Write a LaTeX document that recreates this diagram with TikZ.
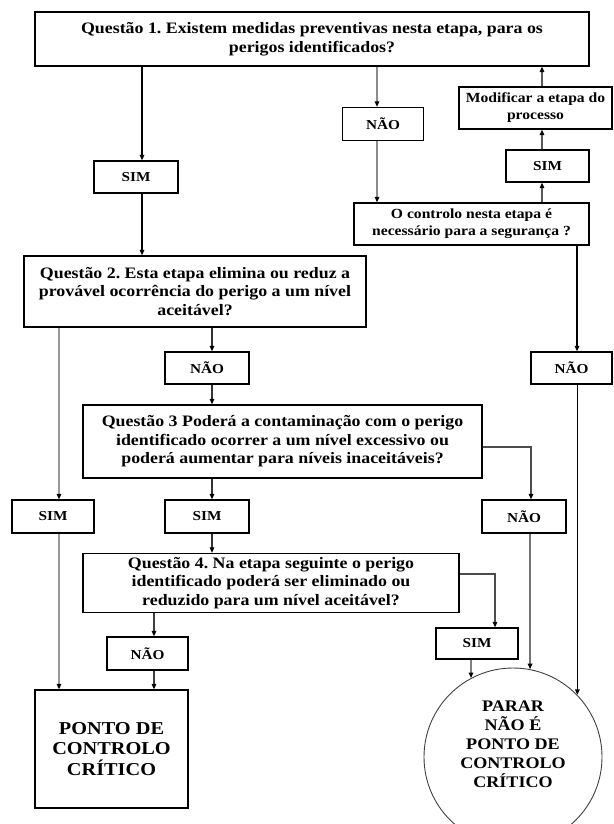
\documentclass[tikz,border=0pt]{standalone}
\usepackage{fontspec}
\setmainfont{Liberation Serif}[FakeStretch=1.12]
\usetikzlibrary{arrows.meta}
\frenchspacing

\begin{document}
\begin{tikzpicture}[x=1bp,y=-1bp,
  box/.style={draw=black,line width=1.2bp,inner sep=0pt,align=center},
  qtext/.style={font=\fontsize{16}{18.5}\selectfont\bfseries},
  mtext/.style={font=\fontsize{14}{17}\selectfont\bfseries},
  ltext/.style={font=\fontsize{13.7}{16}\selectfont\bfseries},
  ptext/.style={font=\fontsize{18.2}{21}\selectfont\bfseries},
  ctext/.style={font=\fontsize{16.2}{19}\selectfont\bfseries},
  tip/.style={-{Triangle[length=5.5bp,width=4.5bp,color=black]}},
  link/.style={tip,line width=1.4bp,draw=#1},
  link/.default=black,
]
\useasboundingbox (0,0) rectangle (614,824);
\clip (0,0) rectangle (614,824);

% question boxes
\node[box,qtext,minimum width=554bp,minimum height=54bp] (q1) at (312,39)
  {Questão 1. Existem medidas preventivas nesta etapa, para os\\perigos identificados?};
\node[box,qtext,minimum width=342bp,minimum height=71bp] (q2) at (195,291.5)
  {Questão 2. Esta etapa elimina ou reduz a\\provável ocorrência do perigo a um nível\\aceitável?};
\node[box,qtext,minimum width=399bp,minimum height=73bp] (q3) at (282.5,441.5)
  {Questão 3 Poderá a contaminação com o perigo\\identificado ocorrer a um nível excessivo ou\\poderá aumentar para níveis inaceitáveis?};
\node[box,qtext,minimum width=376bp,minimum height=59bp] (q4) at (271,583)
  {Questão 4. Na etapa seguinte o perigo\\identificado poderá ser eliminado ou\\reduzido para um nível aceitável?};

% side boxes
\node[box,mtext,minimum width=153bp,minimum height=42bp] (modif) at (535.5,108)
  {Modificar a etapa do\\processo};
\node[box,mtext,minimum width=235bp,minimum height=42bp] (ctrl) at (471.5,224)
  {O controlo nesta etapa é\\necessário para a segurança ?};

% answer boxes
\node[box,ltext,minimum width=84bp,minimum height=32bp] (simA) at (136,177) {SIM};
\node[box,ltext,minimum width=81bp,minimum height=33bp] (naoA) at (383,124) {NÃO};
\node[box,ltext,minimum width=83bp,minimum height=32bp] (simB) at (547.5,166) {SIM};
\node[box,ltext,minimum width=84bp,minimum height=32bp] (naoC) at (207,368) {NÃO};
\node[box,ltext,minimum width=81bp,minimum height=32bp] (naoB) at (571.5,368) {NÃO};
\node[box,ltext,minimum width=82bp,minimum height=33bp] (simC) at (53,516.5) {SIM};
\node[box,ltext,minimum width=84bp,minimum height=33bp] (simD) at (207,516.5) {SIM};
\node[box,ltext,minimum width=84bp,minimum height=33bp] (naoD) at (524,516.5) {NÃO};
\node[box,ltext,minimum width=82bp,minimum height=31bp] (simE) at (477,643.5) {SIM};
\node[box,ltext,minimum width=81bp,minimum height=33bp] (naoE) at (147.5,653.5) {NÃO};

% outcomes
\node[box,ptext,minimum width=153bp,minimum height=118bp] (pcc) at (111.5,749)
  {PONTO DE\\CONTROLO\\CRÍTICO};
\node[draw=black!75,line width=0.9bp,circle,minimum size=178bp,inner sep=0pt] (stop) at (513,757) {};
\node[ctext,align=center,inner sep=0pt] (stoptxt) at ([yshift=13bp]stop.center)
  {PARAR\\NÃO É\\PONTO DE\\CONTROLO\\CRÍTICO};

% vertical lanes of the connectors
\coordinate (l1) at (142,0);
\coordinate (l2) at (377,0);
\coordinate (l3) at (542,0);
\coordinate (l4) at (577,0);
\coordinate (l5) at (59,0);
\coordinate (l6) at (212,0);
\coordinate (k7) at (531,447);
\coordinate (k8) at (495,574);
\coordinate (l9) at (154,0);

% question 1
\draw[link] (q1.south -| l1) -- (simA.north -| l1);
\draw[link] (simA.south -| l1) -- (q2.north -| l1);
\draw[link=black!45] (q1.south -| l2) -- (naoA.north -| l2);
\draw[link=black!45] (naoA.south -| l2) -- (ctrl.north -| l2);
\draw[link=black!65] (ctrl.north -| l3) -- (simB.south -| l3);
\draw[link=black!65] (simB.north -| l3) -- (modif.south -| l3);
\draw[link=black!65] (modif.north -| l3) -- (q1.south -| l3);
\draw[link] (ctrl.south -| l4) -- (naoB.north -| l4);
\draw[link] (naoB.south -| stop.44) -- (stop.44);

% question 2
\draw[link=black!40] (q2.south -| l5) -- (simC.north -| l5);
\draw[link=black!40] (simC.south -| l5) -- (pcc.north -| l5);
\draw[link=black!80] (q2.south -| l6) -- (naoC.north -| l6);
\draw[link=black!80] (naoC.south -| l6) -- (q3.north -| l6);

% question 3
\draw[link=black!80] (q3.south -| l6) -- (simD.north -| l6);
\draw[link=black!80] (simD.south -| l6) -- (q4.north -| l6);
\draw[link=black!70] (q3.east |- k7) -| (naoD.north -| k7);
\draw[link=black!55] (naoD.south -| stop.79) -- (stop.79);

% question 4
\draw[link=black!70] (q4.east |- k8) -| (simE.north -| k8);
\draw[link=black!50] (simE.south -| stop.118) -- (stop.118);
\draw[link=black!75] (q4.south -| l9) -- (naoE.north -| l9);
\draw[link=black!75] (naoE.south -| l9) -- (pcc.north -| l9);
\end{tikzpicture}
\end{document}
